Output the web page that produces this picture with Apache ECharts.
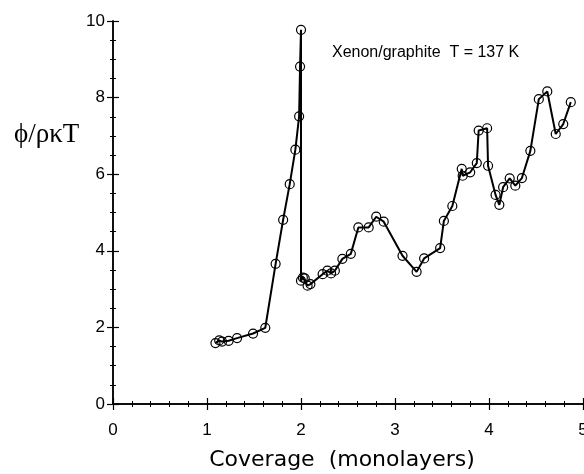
<!DOCTYPE html>
<html>
<head>
<meta charset="utf-8">
<script src="https://cdn.jsdelivr.net/npm/echarts@6/dist/echarts.min.js"></script>
<style>
html,body{margin:0;padding:0;background:#fff;}
#chart{width:584px;height:474px;}
</style>
</head>
<body>
<div id="chart"></div>
<script>
// Coverage (monolayers)
var coverage = [1.09, 1.13, 1.16, 1.23, 1.32, 1.49, 1.62, 1.73, 1.81, 1.88, 1.94, 1.98, 1.99, 2.00,
  2.00, 2.02, 2.04, 2.07, 2.10, 2.23, 2.28, 2.32, 2.36, 2.44, 2.53, 2.61, 2.72, 2.80, 2.88,
  3.08, 3.23, 3.31, 3.48, 3.52, 3.61, 3.71, 3.72, 3.80, 3.87, 3.89, 3.98, 3.99, 4.07, 4.11,
  4.15, 4.22, 4.28, 4.35, 4.44, 4.53, 4.62, 4.71, 4.79, 4.87];
// phi / (rho k T)
var phi = [1.59, 1.66, 1.63, 1.65, 1.72, 1.84, 1.99, 3.66, 4.81, 5.74, 6.64, 7.51, 8.81, 9.77,
  3.22, 3.30, 3.28, 3.09, 3.13, 3.39, 3.48, 3.41, 3.48, 3.79, 3.92, 4.61, 4.61, 4.89, 4.76,
  3.87, 3.45, 3.80, 4.07, 4.78, 5.17, 6.14, 5.96, 6.05, 6.29, 7.14, 7.20, 6.22, 5.46, 5.20,
  5.66, 5.89, 5.70, 5.90, 6.61, 7.96, 8.16, 7.05, 7.31, 7.88];
var xTicks = ['0', '1', '2', '3', '4', '5'];
var yTicks = ['0', '2', '4', '6', '8', '10'];
var xName = 'Coverage  (monolayers)';
var yName = 'ϕ/ρκT';
var note = 'Xenon/graphite  T = 137 K';

var pts = coverage.map(function (x, i) { return [x, phi[i]]; });
var sans = '"Liberation Sans", Arial, sans-serif';
var axisCommon = {
  type: 'value',
  axisLine: { show: true, lineStyle: { color: '#000', width: 1.5 } },
  axisTick: { show: true, inside: true, length: 6, lineStyle: { color: '#000', width: 1.2 } },
  splitLine: { show: false }
};
function ax(extra) { return Object.assign({}, JSON.parse(JSON.stringify(axisCommon)), extra); }

var chart = echarts.init(document.getElementById('chart'), null, { renderer: 'canvas' });
chart.setOption({
  animation: false,
  backgroundColor: '#fff',
  grid: { left: 113, right: 1, top: 21, bottom: 70, containLabel: false, outerBoundsMode: 'none' },
  title: [
    { text: note, left: 332, top: 45, padding: 0, textStyle: { fontFamily: sans, fontSize: 16, fontWeight: 'normal', color: '#000' } },
    { text: yName, left: 14, top: 121, padding: 0, textStyle: { fontFamily: '"Liberation Serif", "Times New Roman", serif', fontSize: 27, fontWeight: 'normal', color: '#000' } }
  ],
  xAxis: [
    ax({ position: 'bottom', min: 0, max: 5, interval: 1, minorTick: { show: true, splitNumber: 5, length: 3, lineStyle: { color: '#000' } },
      axisLabel: { show: true, color: '#000', fontFamily: sans, fontSize: 17, margin: 18, formatter: function (v) { return xTicks[Math.round(v)]; } },
      name: xName, nameLocation: 'middle', nameGap: 45,
      nameTextStyle: { fontFamily: '"DejaVu Sans", sans-serif', fontSize: 22, color: '#000', padding: [0, 12, 0, 0] } }),
    ax({ position: 'top', min: 0, max: 5, interval: 1, minorTick: { show: true, splitNumber: 5, length: 3, lineStyle: { color: '#000' } },
      axisLabel: { show: false } })
  ],
  yAxis: [
    ax({ position: 'left', min: 0, max: 10, interval: 2, minorTick: { show: true, splitNumber: 4, length: 3, lineStyle: { color: '#000' } },
      axisLabel: { show: true, color: '#000', fontFamily: sans, fontSize: 17, margin: 8, formatter: function (v) { return yTicks[Math.round(v / 2)]; } } }),
    ax({ position: 'right', min: 0, max: 10, interval: 2, minorTick: { show: true, splitNumber: 4, length: 3, lineStyle: { color: '#000' } },
      axisLabel: { show: false } })
  ],
  series: [{
    type: 'line',
    data: pts,
    xAxisIndex: 0, yAxisIndex: 0,
    symbol: 'circle',
    symbolSize: 9,
    showAllSymbol: true,
    lineStyle: { color: '#000', width: 2 },
    itemStyle: { color: 'rgba(255,255,255,0)', borderColor: '#000', borderWidth: 1.2 },
    z: 3
  }]
});
</script>
</body>
</html>
